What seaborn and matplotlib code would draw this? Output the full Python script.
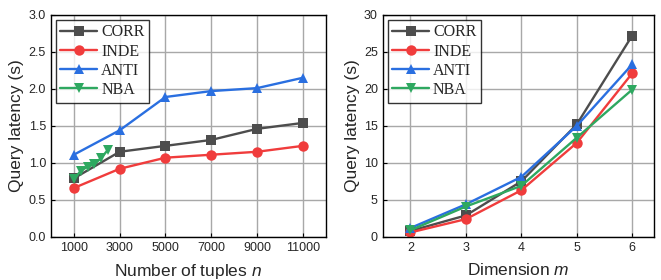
import pandas as pd
import seaborn as sns
import matplotlib.pyplot as plt

# --- data ---
series = ['CORR', 'INDE', 'ANTI', 'NBA']

n_vals = [1000, 3000, 5000, 7000, 9000, 11000]
corr_n = [0.79, 1.15, 1.23, 1.31, 1.46, 1.54]
inde_n = [0.66, 0.92, 1.07, 1.11, 1.15, 1.23]
anti_n = [1.11, 1.44, 1.89, 1.97, 2.01, 2.15]
nba_n_x = [1000, 1300, 1600, 1900, 2200, 2500]
nba_n = [0.78, 0.89, 0.95, 0.98, 1.07, 1.18]

m_vals = [2, 3, 4, 5, 6]
corr_m = [0.8, 2.9, 7.5, 15.2, 27.2]
inde_m = [0.6, 2.4, 6.3, 12.7, 22.1]
anti_m = [1.2, 4.4, 8.1, 15.0, 23.3]
nba_m = [0.9, 4.1, 6.9, 13.4, 19.9]

colors = {'CORR': '#4d4d4d', 'INDE': '#f03c3c', 'ANTI': '#2a6fe0', 'NBA': '#2ea860'}
markers = {'CORR': 's', 'INDE': 'o', 'ANTI': '^', 'NBA': 'v'}


def make_df(xs, ys, names):
    rows = []
    for x, y, name in zip(xs, ys, names):
        for a, b in zip(x, y):
            rows.append({'x': a, 'y': b, 'method': name})
    return pd.DataFrame(rows)


df_n = make_df([n_vals, n_vals, n_vals, nba_n_x], [corr_n, inde_n, anti_n, nba_n], series)
df_m = make_df([m_vals] * 4, [corr_m, inde_m, anti_m, nba_m], series)

sns.set_style('ticks')
plt.rcParams['font.family'] = ['Liberation Sans', 'DejaVu Sans']
plt.rcParams['mathtext.fontset'] = 'custom'
plt.rcParams['mathtext.it'] = 'Liberation Sans:italic'
plt.rcParams['mathtext.rm'] = 'Liberation Sans'

fig = plt.figure(figsize=(6.61, 2.8), dpi=100)
ax1 = fig.add_axes([0.077, 0.154, 0.416, 0.793])
ax2 = fig.add_axes([0.579, 0.154, 0.411, 0.793])


def draw(ax, df):
    sns.lineplot(data=df, x='x', y='y', hue='method', style='method',
                 hue_order=series, style_order=series, palette=colors,
                 markers=markers, dashes=False, linewidth=1.7, markersize=7.5,
                 markeredgewidth=0, ax=ax)
    ax.grid(True, color='#a8a8a8', linewidth=1.0)
    ax.set_axisbelow(True)
    for sp in ax.spines.values():
        sp.set_color('black')
        sp.set_linewidth(1.0)
    ax.tick_params(labelsize=9, direction='in', length=3, color='black')
    ax.set_ylabel('Query latency (s)', fontsize=12.5, labelpad=3)
    leg = ax.legend(loc='upper left', prop={'family': 'Liberation Serif', 'size': 11.5},
                    frameon=True, fancybox=False, edgecolor='black',
                    handlelength=2.3, borderaxespad=0.3, labelspacing=0.2,
                    borderpad=0.3, handletextpad=0.25)
    leg.get_frame().set_linewidth(1.0)


draw(ax1, df_n)
ax1.set_xlim(0, 12000)
ax1.set_xticks(n_vals)
ax1.set_ylim(0, 3.0)
ax1.set_yticks([0.0, 0.5, 1.0, 1.5, 2.0, 2.5, 3.0])
ax1.set_yticklabels(['0.0', '0.5', '1.0', '1.5', '2.0', '2.5', '3.0'])
ax1.set_xlabel('Number of tuples $n$', fontsize=12.5, labelpad=6)

draw(ax2, df_m)
ax2.set_xlim(1.5, 6.4)
ax2.set_xticks(m_vals)
ax2.set_ylim(0, 30)
ax2.set_yticks([0, 5, 10, 15, 20, 25, 30])
ax2.set_xlabel('Dimension $m$', fontsize=12.5, labelpad=6)

fig.savefig('out.png', dpi=100)
